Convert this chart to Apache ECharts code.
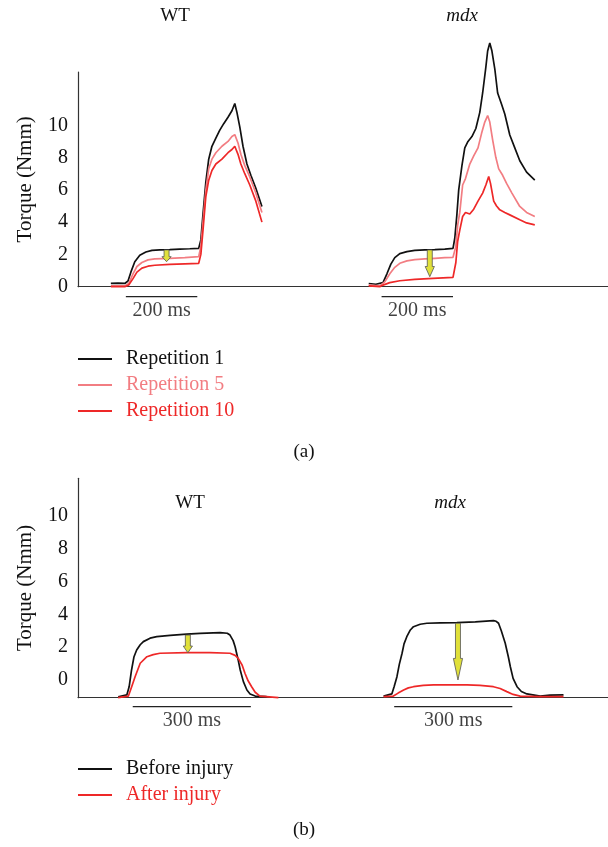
<!DOCTYPE html>
<html>
<head>
<meta charset="utf-8">
<script src="https://cdn.jsdelivr.net/npm/echarts@6/dist/echarts.min.js"></script>
<style>
  html, body { margin: 0; padding: 0; background: #fff; }
  #main { width: 608px; height: 847px; }
</style>
</head>
<body>
<div id="main"></div>
<script>
// [ms from stimulus onset, torque Nmm]
// panel (a): repeated contractions
const aWtRep1 = [[-42,0.2],[-22,0.22],[-3,0.2],[6,0.35],[14,0.9],[25,1.55],[39,1.95],[56,2.15],[73,2.25],[95,2.28],[123,2.3],[151,2.33],[179,2.35],[204,2.38],[210,2.9],[216,4.5],[224,6.5],[232,7.9],[241,8.7],[252,9.2],[263,9.7],[274,10.1],[286,10.5],[297,10.9],[305,11.35],[311,10.8],[319,9.9],[328,8.7],[339,7.6],[350,6.9],[364,6.1],[381,4.97]]
const aWtRep5 = [[-42,0.05],[-3,0.05],[8,0.2],[20,0.8],[31,1.25],[45,1.5],[62,1.66],[81,1.72],[123,1.76],[165,1.8],[204,1.86],[210,2.5],[216,4.0],[224,6.0],[232,7.3],[241,7.9],[252,8.3],[269,8.7],[286,9.0],[297,9.3],[305,9.42],[314,8.9],[322,8.2],[333,7.5],[347,6.8],[364,5.8],[381,4.6]]
const aWtRep10 = [[-42,0.0],[-3,0.0],[8,0.1],[20,0.5],[31,0.9],[45,1.15],[62,1.27],[81,1.33],[123,1.38],[165,1.42],[204,1.45],[210,2.0],[216,3.5],[224,5.6],[232,6.6],[241,7.2],[252,7.6],[269,7.9],[286,8.3],[297,8.5],[305,8.7],[314,8.2],[322,7.6],[333,7.0],[347,6.3],[364,5.3],[381,4.0]]
const aMdxRep1 = [[-36,0.2],[-16,0.15],[4,0.25],[15,0.8],[26,1.4],[37,1.8],[51,2.05],[71,2.17],[93,2.25],[121,2.28],[149,2.3],[177,2.33],[200,2.38],[205,3.0],[211,4.5],[216,6.0],[225,7.5],[233,8.6],[242,9.0],[253,9.3],[264,9.8],[275,10.8],[283,12.0],[292,13.6],[297,14.6],[303,15.1],[309,14.6],[317,13.5],[325,12.0],[336,11.3],[345,10.7],[359,9.4],[373,8.6],[387,7.8],[406,7.1],[429,6.6]]
const aMdxRep5 = [[-36,0.1],[-5,0.05],[9,0.3],[23,0.8],[37,1.2],[51,1.45],[71,1.6],[93,1.68],[121,1.72],[149,1.76],[177,1.8],[200,1.82],[208,2.5],[213,3.8],[219,4.6],[227,6.3],[235,6.7],[247,7.6],[258,8.1],[270,8.6],[280,9.5],[289,10.2],[297,10.6],[303,10.2],[311,9.1],[320,8.0],[328,7.3],[339,6.9],[350,6.4],[365,5.8],[387,4.97],[406,4.6],[429,4.35]]
const aMdxRep10 = [[-36,0.05],[-5,0.0],[4,0.1],[23,0.25],[51,0.37],[93,0.45],[144,0.52],[200,0.58],[208,1.5],[213,2.8],[219,3.5],[227,4.35],[235,4.6],[247,4.5],[258,4.8],[270,5.3],[283,5.8],[292,6.3],[300,6.83],[305,6.4],[314,5.3],[322,5.0],[331,4.76],[345,4.6],[359,4.45],[387,4.15],[406,3.95],[429,3.83]]

// panel (b): before / after eccentric injury
const bWtBefore = [[-37,-1.02],[-15,-0.91],[-9,-0.4],[-3,0.61],[3,1.4],[10,1.83],[19,2.15],[27,2.34],[44,2.55],[61,2.64],[95,2.72],[137,2.8],[171,2.84],[222,2.89],[240,2.85],[247,2.74],[255,2.4],[260,2.03],[268,1.2],[273,0.61],[281,-0.1],[290,-0.61],[298,-0.85],[311,-0.98],[340,-1.02]]
const bWtAfter = [[-37,-1.08],[-11,-0.98],[-4,-0.5],[6,0.2],[19,1.02],[36,1.42],[52,1.55],[69,1.63],[137,1.67],[196,1.67],[247,1.63],[260,1.5],[268,1.32],[278,0.9],[285,0.41],[293,-0.05],[302,-0.41],[311,-0.75],[323,-0.98],[370,-1.08]]
const bMdxBefore = [[-27,-0.98],[-6,-0.85],[0,-0.4],[7,0.2],[13,0.95],[20,1.63],[25,2.2],[32,2.64],[41,3.05],[49,3.25],[66,3.4],[83,3.46],[117,3.48],[159,3.5],[206,3.55],[252,3.62],[259,3.58],[265,3.46],[272,3.0],[282,2.24],[290,1.4],[295,0.81],[302,0.1],[312,-0.41],[323,-0.7],[337,-0.85],[371,-0.98],[396,-0.92],[430,-0.91]]
const bMdxAfter = [[-27,-1.02],[-2,-0.98],[10,-0.8],[24,-0.61],[36,-0.48],[49,-0.41],[74,-0.33],[100,-0.3],[142,-0.29],[185,-0.3],[218,-0.33],[252,-0.41],[269,-0.52],[286,-0.71],[302,-0.88],[320,-0.98],[371,-1.02],[430,-1.02]]

// arrows: [ms from onset, torque at top, torque at tip]
const aArrows = [[114, 2.28, 1.55], [135, 2.28, 0.62]]
const bArrows = [[140, 2.74, 1.66], [162, 3.46, 0.0]]

const yTicks = [0, 2, 4, 6, 8, 10]
const repNames = ['Repetition 1', 'Repetition 5', 'Repetition 10']
const injNames = ['Before injury', 'After injury']

const onsetA = { wt: 134, mdx: 850 }
const onsetB = { wt: 139, mdx: 803 }

const BLACK = '#111111'
const PINK = '#f27d82'
const RED = '#ee2828'
const SERIF = '"Liberation Serif", "DejaVu Serif", serif'

const shift = (pts, t0) => pts.map(p => [p[0] + t0, p[1]])

function trace(name, pts, t0, color, idx) {
  return {
    type: 'line', name, xAxisIndex: idx, yAxisIndex: idx,
    data: shift(pts, t0), showSymbol: false, clip: false, silent: true,
    color, lineStyle: { color, width: 1.7 }, itemStyle: { color },
    z: name === repNames[0] || name === injNames[0] ? 2 : 3
  }
}

function scaleBar(t0, len, y, idx) {
  return [
    {
      type: 'line', xAxisIndex: idx, yAxisIndex: idx, data: [[t0, y], [t0 + len, y]],
      showSymbol: false, clip: false, silent: true, lineStyle: { color: '#222', width: 1.2 }
    },
    {
      type: 'scatter', xAxisIndex: idx, yAxisIndex: idx, data: [[t0 + len / 2, y]],
      symbolSize: 0, clip: false, silent: true,
      label: { show: true, position: 'bottom', distance: 4, formatter: len + ' ms',
        color: BLACK, fontSize: 20, fontFamily: SERIF }
    }
  ]
}

function arrows(list, onsets, idx) {
  return {
    type: 'custom', xAxisIndex: idx, yAxisIndex: idx, silent: true, z: 5,
    data: list.map((a, i) => [a[0] + (i === 0 ? onsets.wt : onsets.mdx), a[1], a[2]]),
    renderItem: (params, api) => {
      const top = api.coord([api.value(0), api.value(1)])
      const tip = api.coord([api.value(0), api.value(2)])
      const x = top[0]
      const len = tip[1] - top[1]
      const head = Math.max(5, len * 0.38)
      const sw = 2.5, hw = 4.6
      const yh = tip[1] - head
      return {
        type: 'polygon',
        shape: { points: [[x - sw, top[1]], [x + sw, top[1]], [x + sw, yh], [x + hw, yh], [x, tip[1]], [x - hw, yh], [x - sw, yh]] },
        style: { fill: '#e0e03a', stroke: '#555', lineWidth: 0.8 }
      }
    }
  }
}

function yAxis(idx, min, max) {
  return {
    type: 'value', gridIndex: idx, min, max,
    name: 'Torque (Nmm)', nameLocation: 'middle', nameGap: 42,
    nameTextStyle: { fontSize: 21, fontFamily: SERIF, color: BLACK },
    axisLine: { show: true, onZero: false, lineStyle: { color: '#333', width: 1.2 } },
    axisTick: { show: false }, splitLine: { show: false },
    axisLabel: { customValues: yTicks, margin: 10, fontSize: 20, fontFamily: SERIF, color: BLACK }
  }
}

function xAxis(idx, max) {
  return {
    type: 'value', gridIndex: idx, min: 0, max,
    axisLine: { show: true, onZero: false, lineStyle: { color: '#333', width: 1.2 } },
    axisTick: { show: false }, axisLabel: { show: false }, splitLine: { show: false }
  }
}

function legend(names, colors, top) {
  return {
    orient: 'vertical', left: 78, top, padding: 0, icon: 'rect', itemWidth: 34, itemHeight: 2, itemGap: 6,
    selectedMode: false,
    data: names.map((n, i) => ({ name: n, textStyle: { color: colors[i] } })),
    textStyle: { fontSize: 20, fontFamily: SERIF, lineHeight: 20, padding: [0, 0, 0, 9] }
  }
}

function text(str, x, y, italic) {
  return {
    type: 'text', x, y, silent: true,
    style: { text: str, font: (italic ? 'italic ' : '') + '19px ' + SERIF, fill: BLACK, align: 'center', verticalAlign: 'middle' }
  }
}

const chart = echarts.init(document.getElementById('main'), null, { renderer: 'canvas' })

chart.setOption({
  animation: false,
  backgroundColor: '#fff',
  grid: [
    { left: 78, top: 72, width: 530, height: 214.7 },
    { left: 78, top: 478.3, width: 530, height: 219.4 }
  ],
  xAxis: [xAxis(0, 1484), xAxis(1, 1346)],
  yAxis: [yAxis(0, 0, 13.3), yAxis(1, -1.08, 12.3)],
  legend: [
    legend(repNames, [BLACK, PINK, RED], 349),
    legend(injNames, [BLACK, RED], 759)
  ],
  graphic: [
    text('WT', 175, 16), text('mdx', 462, 16, true),
    text('WT', 190, 503), text('mdx', 450, 503, true),
    text('(a)', 304, 452), text('(b)', 304, 830)
  ],
  series: [
    trace(repNames[0], aWtRep1, onsetA.wt, BLACK, 0),
    trace(repNames[1], aWtRep5, onsetA.wt, PINK, 0),
    trace(repNames[2], aWtRep10, onsetA.wt, RED, 0),
    trace(repNames[0], aMdxRep1, onsetA.mdx, BLACK, 0),
    trace(repNames[1], aMdxRep5, onsetA.mdx, PINK, 0),
    trace(repNames[2], aMdxRep10, onsetA.mdx, RED, 0),
    trace(injNames[0], bWtBefore, onsetB.wt, BLACK, 1),
    trace(injNames[1], bWtAfter, onsetB.wt, RED, 1),
    trace(injNames[0], bMdxBefore, onsetB.mdx, BLACK, 1),
    trace(injNames[1], bMdxAfter, onsetB.mdx, RED, 1),
    ...scaleBar(onsetA.wt, 200, -0.62, 0),
    ...scaleBar(onsetA.mdx, 200, -0.62, 0),
    ...scaleBar(onsetB.wt, 300, -1.63, 1),
    ...scaleBar(onsetB.mdx, 300, -1.63, 1),
    arrows(aArrows, onsetA, 0),
    arrows(bArrows, onsetB, 1)
  ]
})
</script>
</body>
</html>
